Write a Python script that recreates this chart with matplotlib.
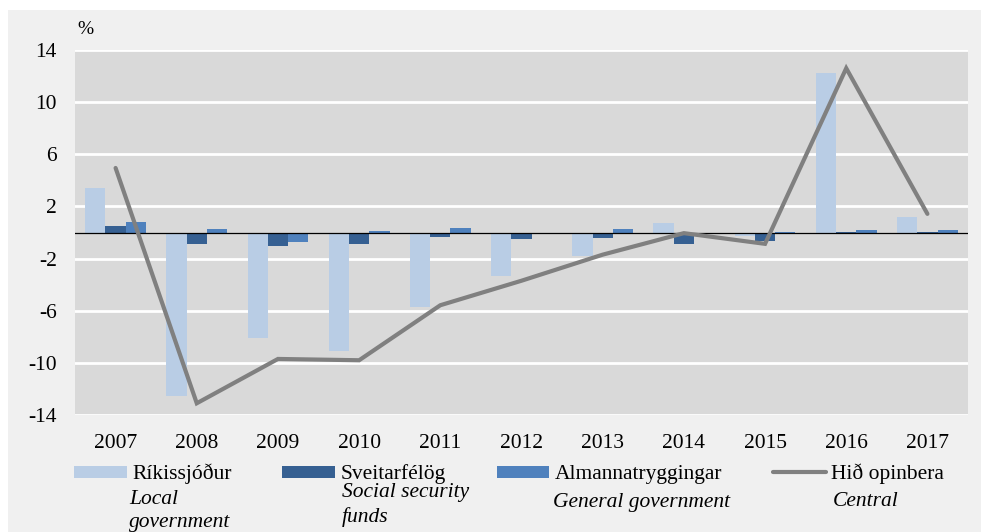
import matplotlib.pyplot as plt
from matplotlib.patches import Rectangle
import numpy as np

years = ['2007', '2008', '2009', '2010', '2011', '2012', '2013', '2014', '2015', '2016', '2017']
rikissjodur = [3.44, -12.58, -8.06, -9.08, -5.7, -3.3, -1.8, 0.74, -0.3, 12.2, 1.17]
sveitarfelog = [0.53, -0.9, -1.0, -0.87, -0.34, -0.52, -0.41, -0.85, -0.64, 0.05, 0.05]
almannatr = [0.79, 0.25, -0.7, 0.08, 0.35, 0.0, 0.28, 0.0, 0.05, 0.2, 0.2]
hid_opinbera = [4.95, -13.1, -9.7, -9.8, -5.58, -3.7, -1.7, -0.05, -0.87, 12.6, 1.43]
yticks = [14, 10, 6, 2, -2, -6, -10, -14]

plt.rcParams['font.family'] = ['Liberation Serif', 'DejaVu Serif']

W, H = 981, 532
fig = plt.figure(figsize=(W / 100, H / 100), dpi=100)
fig.patch.set_facecolor('white')
# grey panel behind the chart
fig.patches.append(Rectangle((8 / W, 0), 1 - 8 / W, 1 - 10 / H, transform=fig.transFigure,
                             facecolor='#f0f0f0', edgecolor='none', zorder=-5))

ax = fig.add_axes([75 / W, 1 - 415 / H, (968 - 75) / W, (415 - 50) / H])
ax.set_zorder(1)
ax.set_facecolor('#d9d9d9')

x = np.arange(len(years))
w = 0.25
b1 = ax.bar(x - w, rikissjodur, w, color='#b9cde5', zorder=2)
b2 = ax.bar(x, sveitarfelog, w, color='#366092', zorder=2)
b3 = ax.bar(x + w, almannatr, w, color='#4f81bd', zorder=2)
ax.axhline(0, color='black', lw=0.9, zorder=3)
ln, = ax.plot(x, hid_opinbera, color='#808080', lw=3, zorder=4,
              solid_capstyle='round', solid_joinstyle='miter')

ax.set_xlim(-0.5, len(years) - 0.5)
ax.set_ylim(-14, 14)
ax.set_yticks(yticks)
ax.set_yticklabels([str(v) for v in yticks])
ax.set_xticks(x)
ax.set_xticklabels(years)
ax.tick_params(axis='both', length=0, labelsize=15.5)
ax.tick_params(axis='y', pad=13)
ax.tick_params(axis='x', pad=14)
ax.grid(axis='y', color='white', lw=2, zorder=1)
ax.set_axisbelow(True)
for s in ax.spines.values():
    s.set_visible(False)

fig.text(77 / W, 1 - 29 / H, '%', fontsize=14, va='center', ha='left')

fig.legend([b1, b2, b3, ln], ['Ríkissjóður', 'Sveitarfélög', 'Almannatryggingar', 'Hið opinbera'],
           loc='center left', bbox_to_anchor=(74 / W, 1 - 474 / H), ncol=4, frameon=False,
           fontsize=15.5, handlelength=2.45, handleheight=0.5, handletextpad=0.25,
           columnspacing=2.36, borderaxespad=0, borderpad=0)

it = dict(fontsize=15.5, style='italic', va='center', ha='left')
fig.text(129 / W, 1 - 499 / H, 'Local', **it)
fig.text(129 / W, 1 - 523 / H, 'government', **it)
fig.text(342 / W, 1 - 493 / H, 'Social security', **it)
fig.text(342 / W, 1 - 517 / H, 'funds', **it)
fig.text(553 / W, 1 - 502 / H, 'General government', **it)
fig.text(833 / W, 1 - 502 / H, 'Central', **it)

fig.savefig('out.png', dpi=100, facecolor=fig.get_facecolor())
